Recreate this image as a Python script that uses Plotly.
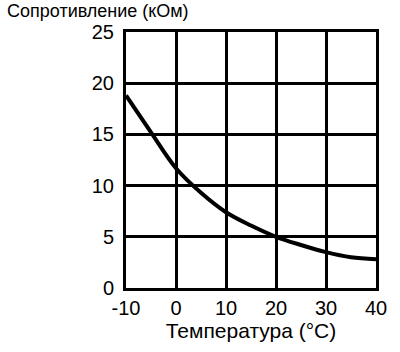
import plotly.graph_objects as go

temps = [-10, -5, 0, 5, 10, 15, 20, 25, 30, 35, 40]
resist = [18.8, 15.2, 11.7, 9.3, 7.4, 6.1, 5.0, 4.2, 3.5, 3.0, 2.8]
x_ticks = [-10, 0, 10, 20, 30, 40]
x_labels = ["-10", "0", "10", "20", "30", "40"]
y_ticks = [0, 5, 10, 15, 20, 25]

fig = go.Figure()
fig.add_trace(go.Scatter(x=temps, y=resist, mode="lines",
                         line=dict(color="black", width=4, shape="spline"),
                         showlegend=False, hoverinfo="skip"))

font = "Liberation Sans, Arial, sans-serif"
fig.update_layout(
    width=400, height=352,
    margin=dict(l=126, r=24, t=32, b=64),
    paper_bgcolor="white", plot_bgcolor="white",
    font=dict(family=font, color="black"),
    xaxis=dict(range=[-10, 40], tickvals=x_ticks, ticktext=x_labels, showgrid=True,
               gridcolor="black", gridwidth=3, zeroline=False, showline=True,
               linecolor="black", linewidth=3, mirror=True, ticks="",
               tickfont=dict(size=20),
               title=dict(text="Температура (°C)", font=dict(size=21), standoff=6)),
    yaxis=dict(range=[0, 25], tickvals=y_ticks, showgrid=True, gridcolor="black",
               gridwidth=3, zeroline=False, showline=True, linecolor="black",
               linewidth=3, mirror=True, ticks="", tickfont=dict(size=20),
               ticklabelstandoff=5),
    annotations=[dict(text="Сопротивление (кОм)", xref="paper", yref="paper",
                      x=-0.484, y=1.082, xanchor="left", yanchor="middle",
                      showarrow=False, font=dict(size=18))],
)
fig.write_html("out.html")
